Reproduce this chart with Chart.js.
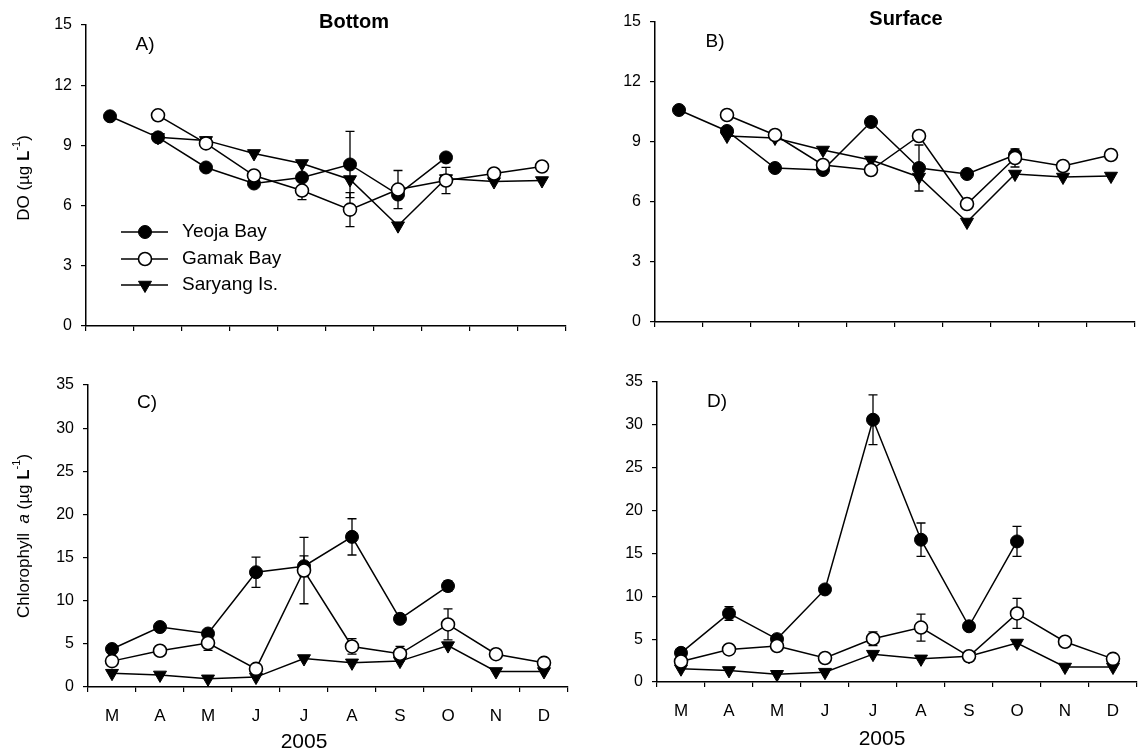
<!DOCTYPE html>
<html>
<head>
<meta charset="utf-8">
<script src="https://cdn.jsdelivr.net/npm/chart.js@4.4.1/dist/chart.umd.min.js"></script>
<style>
  html, body { margin: 0; padding: 0; background: #fff; }
  #fig { position: relative; width: 1140px; height: 753px; overflow: hidden; background: #fff; }
  #fig canvas { position: absolute; }
</style>
</head>
<body>
<div id="fig">
  <canvas id="cA" width="570" height="345" style="left:0;top:0;width:570px;height:345px"></canvas>
  <canvas id="cB" width="570" height="345" style="left:570px;top:0;width:570px;height:345px"></canvas>
  <canvas id="cC" width="570" height="408" style="left:0;top:345px;width:570px;height:408px"></canvas>
  <canvas id="cD" width="570" height="408" style="left:570px;top:345px;width:570px;height:408px"></canvas>
</div>
<script>
// Sampling months, March to December 2005
const months = ['M', 'A', 'M', 'J', 'J', 'A', 'S', 'O', 'N', 'D'];

// Dissolved oxygen, bottom water
const doBottomYeoja   = [10.45, 9.4, 7.9, 7.1, 7.4, 8.05, 6.55, 8.4, null, null];
const doBottomGamak   = [null, 10.5, 9.1, 7.5, 6.75, 5.8, 6.8, 7.25, 7.6, 7.95];
const doBottomSaryang = [null, 9.4, 9.25, 8.6, 8.1, 7.3, 5.0, 7.35, 7.2, 7.25];
const doBottomYeojaErr = [null, null, null, null, null, 1.65, null, null, null, null];
const doBottomGamakErr = [null, null, null, null, 0.45, 0.85, 0.95, 0.65, null, null];

// Dissolved oxygen, surface water
const doSurfYeoja   = [10.6, 9.55, 7.7, 7.6, 10.0, 7.7, 7.4, 8.35, null, null];
const doSurfGamak   = [null, 10.35, 9.35, 7.85, 7.6, 9.3, 5.9, 8.2, 7.8, 8.35];
const doSurfSaryang = [null, 9.3, 9.2, 8.6, 8.1, 7.25, 5.0, 7.4, 7.25, 7.3];
const doSurfYeojaErr = [null, null, null, null, null, 1.15, null, null, null, null];
const doSurfGamakErr = [null, null, null, null, null, null, null, 0.45, null, null];

// Chlorophyll a, bottom water
const chlBottomYeoja   = [4.4, 6.95, 6.2, 13.3, 14.0, 17.4, 7.9, 11.7, null, null];
const chlBottomGamak   = [3.0, 4.2, 5.1, 2.1, 13.5, 4.7, 3.85, 7.25, 3.8, 2.8];
const chlBottomSaryang = [1.6, 1.4, 0.95, 1.15, 3.3, 2.8, 3.0, 4.8, 1.8, 1.8];
const chlBottomYeojaErr = [null, null, null, 1.75, 1.2, 2.1, null, 0.6, null, null];
const chlBottomGamakErr = [null, null, 0.85, null, 3.85, 0.9, 0.85, 1.8, null, null];

// Chlorophyll a, surface water
const chlSurfYeoja   = [3.4, 8.0, 5.0, 10.8, 30.6, 16.6, 6.5, 16.4, null, null];
const chlSurfGamak   = [2.4, 3.8, 4.2, 2.8, 5.05, 6.35, 3.0, 8.0, 4.7, 2.7];
const chlSurfSaryang = [1.55, 1.35, 0.9, 1.15, 3.25, 2.7, 3.0, 4.55, 1.75, 1.75];
const chlSurfYeojaErr = [null, 0.8, null, null, 2.9, 1.95, null, 1.75, null, null];
const chlSurfGamakErr = [null, null, null, null, 0.8, 1.57, null, 1.75, null, null];

const doTicks  = { max: 15, step: 3 };
const chlTicks = { max: 35, step: 5 };

const FONT = "'Liberation Sans', Arial, Helvetica, sans-serif";

// Series appearance
const styles = {
  yeoja:   { pointStyle: 'circle',   radius: 6.5, rotation: 0,   fill: '#000', borderWidth: 1 },
  gamak:   { pointStyle: 'circle',   radius: 6.5, rotation: 0,   fill: '#fff', borderWidth: 1.6 },
  saryang: { pointStyle: 'triangle', radius: 7.5, rotation: 180, fill: '#000', borderWidth: 1 }
};

function series(label, values, errors, key, order) {
  const s = styles[key];
  return {
    label, data: values, errors, order,
    borderColor: '#000', borderWidth: 1.5, tension: 0, clip: false,
    pointStyle: s.pointStyle, pointRadius: s.radius, pointRotation: s.rotation,
    pointBackgroundColor: s.fill, pointBorderColor: '#000', pointBorderWidth: s.borderWidth,
    pointHoverRadius: s.radius
  };
}

// Vertical error bars with caps, drawn beneath the markers
const errorBars = {
  id: 'errorBars',
  beforeDatasetsDraw(chart) {
    const ctx = chart.ctx, yScale = chart.scales.y;
    ctx.save();
    ctx.strokeStyle = '#000';
    ctx.lineWidth = 1.3;
    chart.data.datasets.forEach((ds, i) => {
      if (!ds.errors) return;
      const meta = chart.getDatasetMeta(i);
      ds.errors.forEach((e, j) => {
        if (e == null || ds.data[j] == null) return;
        const x = meta.data[j].x;
        const yTop = yScale.getPixelForValue(ds.data[j] + e);
        const yBot = yScale.getPixelForValue(ds.data[j] - e);
        ctx.beginPath();
        ctx.moveTo(x, yTop); ctx.lineTo(x, yBot);
        ctx.moveTo(x - 4.5, yTop); ctx.lineTo(x + 4.5, yTop);
        ctx.moveTo(x - 4.5, yBot); ctx.lineTo(x + 4.5, yBot);
        ctx.stroke();
      });
    });
    ctx.restore();
  }
};

// Mixed-style text runs (italic, bold, superscript)
function drawRuns(ctx, runs, align) {
  let total = 0;
  runs.forEach(r => { ctx.font = r.font; r.w = ctx.measureText(r.text).width; total += r.w; });
  let x = align === 'left' ? 0 : -total / 2;
  ctx.fillStyle = '#000';
  ctx.textBaseline = 'middle';
  ctx.textAlign = 'left';
  runs.forEach(r => { ctx.font = r.font; ctx.fillText(r.text, x, r.dy || 0); x += r.w; });
}

const panelText = {
  id: 'panelText',
  afterDraw(chart, args, opts) {
    const ctx = chart.ctx;
    (opts.items || []).forEach(it => {
      ctx.save();
      ctx.translate(it.x, it.y);
      if (it.rotate) ctx.rotate(it.rotate);
      drawRuns(ctx, it.runs, it.align);
      ctx.restore();
    });
  }
};

// Series key drawn inside the plot area
const seriesKey = {
  id: 'seriesKey',
  afterDraw(chart, args, opts) {
    if (!opts.entries) return;
    const ctx = chart.ctx;
    opts.entries.forEach(e => {
      const ds = chart.data.datasets.find(d => d.label === e.label);
      ctx.save();
      ctx.strokeStyle = '#000';
      ctx.lineWidth = 1.5;
      ctx.beginPath();
      ctx.moveTo(opts.x0, e.y); ctx.lineTo(opts.x1, e.y);
      ctx.stroke();
      ctx.fillStyle = ds.pointBackgroundColor;
      ctx.strokeStyle = ds.pointBorderColor;
      ctx.lineWidth = ds.pointBorderWidth;
      Chart.helpers.drawPoint(ctx, {
        pointStyle: ds.pointStyle, rotation: ds.pointRotation,
        radius: ds.pointRadius, borderWidth: ds.pointBorderWidth
      }, opts.xm, e.y);
      ctx.fillStyle = '#000';
      ctx.font = opts.size + 'px ' + FONT;
      ctx.textBaseline = 'middle';
      ctx.textAlign = 'left';
      ctx.fillText(ds.label, opts.xt, e.y);
      ctx.restore();
    });
  }
};

function txt(text, size, extra) {
  return { text, font: (extra ? extra + ' ' : '') + size + 'px ' + FONT };
}

function doTitle() {
  return [txt('DO (µg ', 17), txt('L', 17, 'bold'),
          Object.assign(txt('-1', 11), { dy: -7 }), txt(')', 17)];
}
function chlTitle() {
  return [txt('Chlorophyll  ', 17), txt('a', 17, 'italic'), txt(' (µg ', 17), txt('L', 17, 'bold'),
          Object.assign(txt('-1', 11), { dy: -7 }), txt(')', 17)];
}

function makeChart(id, cfg) {
  return new Chart(document.getElementById(id), {
    type: 'line',
    data: {
      labels: months,
      datasets: [
        series('Gamak Bay', cfg.gamak, cfg.gamakErr, 'gamak', 0),
        series('Yeoja Bay', cfg.yeoja, cfg.yeojaErr, 'yeoja', 1),
        series('Saryang Is.', cfg.saryang, null, 'saryang', 2)
      ]
    },
    options: {
      responsive: false,
      animation: false,
      events: [],
      layout: { autoPadding: false, padding: { left: 0, top: cfg.padT, right: cfg.padR, bottom: 0 } },
      plugins: {
        legend: { display: false },
        tooltip: { enabled: false },
        panelText: { items: cfg.texts },
        seriesKey: cfg.key || {}
      },
      scales: {
        x: {
          type: 'category',
          offset: true,
          grid: { offset: true, drawOnChartArea: false, drawTicks: true, tickLength: 5, color: '#000', lineWidth: 1.2 },
          border: { display: true, color: '#000', width: 1.5 },
          ticks: { display: cfg.showMonths, autoSkip: false, maxRotation: 0, color: '#000',
                   font: { family: FONT, size: 17 }, padding: cfg.monthPad || 8 },
          afterFit: s => { s.height = cfg.xH; }
        },
        y: {
          min: 0, max: cfg.ticks.max,
          grid: { drawOnChartArea: false, drawTicks: true, tickLength: 5, color: '#000', lineWidth: 1.2 },
          border: { display: true, color: '#000', width: 1.5 },
          ticks: { stepSize: cfg.ticks.step, color: '#000', font: { family: FONT, size: 16 }, padding: 9 },
          afterFit: s => { s.width = cfg.yW; }
        }
      }
    },
    plugins: [errorBars, panelText, seriesKey]
  });
}

makeChart('cA', {
  yeoja: doBottomYeoja, gamak: doBottomGamak, saryang: doBottomSaryang,
  yeojaErr: doBottomYeojaErr, gamakErr: doBottomGamakErr,
  ticks: doTicks, yW: 86, padR: 4, padT: 25, xH: 19, showMonths: false,
  texts: [
    { x: 354, y: 22, runs: [txt('Bottom', 20, 'bold')] },
    { x: 145, y: 45, runs: [txt('A)', 19)] },
    { x: 24, y: 178, rotate: -Math.PI / 2, runs: doTitle() }
  ],
  key: {
    x0: 121, x1: 168, xm: 145, xt: 182, size: 19,
    entries: [{ label: 'Yeoja Bay', y: 232 }, { label: 'Gamak Bay', y: 259 }, { label: 'Saryang Is.', y: 285 }]
  }
});

makeChart('cB', {
  yeoja: doSurfYeoja, gamak: doSurfGamak, saryang: doSurfSaryang,
  yeojaErr: doSurfYeojaErr, gamakErr: doSurfGamakErr,
  ticks: doTicks, yW: 85, padR: 5, padT: 22, xH: 23, showMonths: false,
  texts: [
    { x: 336, y: 19, runs: [txt('Surface', 20, 'bold')] },
    { x: 145, y: 42, runs: [txt('B)', 19)] }
  ]
});

makeChart('cC', {
  yeoja: chlBottomYeoja, gamak: chlBottomGamak, saryang: chlBottomSaryang,
  yeojaErr: chlBottomYeojaErr, gamakErr: chlBottomGamakErr,
  ticks: chlTicks, yW: 88, padR: 2, padT: 40, xH: 66, showMonths: true, monthPad: 14,
  texts: [
    { x: 147, y: 58, runs: [txt('C)', 19)] },
    { x: 304, y: 397, runs: [txt('2005', 21)] },
    { x: 24, y: 191, rotate: -Math.PI / 2, runs: chlTitle() }
  ]
});

makeChart('cD', {
  yeoja: chlSurfYeoja, gamak: chlSurfGamak, saryang: chlSurfSaryang,
  yeojaErr: chlSurfYeojaErr, gamakErr: chlSurfGamakErr,
  ticks: chlTicks, yW: 87, padR: 3, padT: 37, xH: 71, showMonths: true, monthPad: 14,
  texts: [
    { x: 147, y: 57, runs: [txt('D)', 19)] },
    { x: 312, y: 394, runs: [txt('2005', 21)] }
  ]
});
</script>
</body>
</html>
